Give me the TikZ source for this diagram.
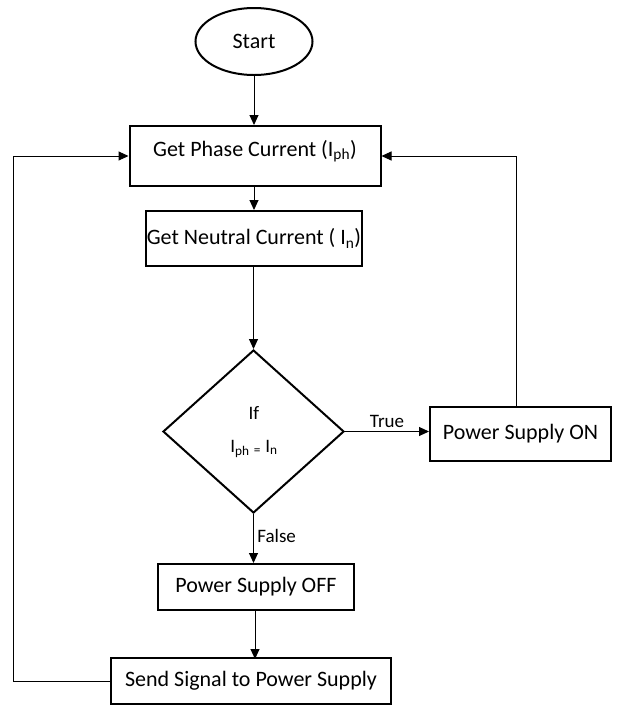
\documentclass[tikz,border=0pt]{standalone}
\usepackage{fontspec}
\setmainfont{Carlito}
\usetikzlibrary{shapes.geometric,arrows.meta}
\begin{document}
\begin{tikzpicture}[x=1pt,y=-1pt,
  font=\fontsize{22}{26}\selectfont,
  box/.style={draw,line width=2pt,inner sep=0pt},
  conn/.style={line width=1pt,-{Triangle[length=10pt,width=9pt]}},
  lbl/.style={font=\fontsize{19}{22}\selectfont}]
\useasboundingbox (0,0) rectangle (617,705);
\node[box,ellipse,minimum width=117,minimum height=67] (start) at (254,41.5) {Start};
\node[box,minimum width=251,minimum height=60] (b1) at (255,156) {\raisebox{5pt}[\height][\depth]{Get Phase Current (I\textsubscript{ph})}};
\node[box,minimum width=216,minimum height=55] (b2) at (254,238.5) {Get Neutral Current ( I\textsubscript{n})};
\node[box,diamond,minimum width=181,minimum height=163] (d) at (253.5,431.5) {};
\node[lbl] (dif) at (254,413) {If};
\node[lbl] (deq) at (254,449) {I\textsubscript{ph} \textsubscript{=} I\textsubscript{n}};
\node[box,minimum width=181,minimum height=54] (on) at (520.5,434) {Power Supply ON};
\node[box,minimum width=196,minimum height=46] (off) at (256,587) {Power Supply OFF};
\node[box,minimum width=280,minimum height=46] (send) at (251,681) {Send Signal to Power Supply};
\coordinate (lc) at (13,681);
\coordinate (rc) at (516,407);
\draw[conn] (start.south) -- (b1.north -| start.south);
\draw[conn] (b1.south -| b2.north) -- (b2.north);
\draw[conn] (b2.south -| d.north) -- (d.north);
\draw[conn] (d.east) -- (d.east -| on.west) node[lbl,midway,above] (ltrue) {True};
\draw[conn] (d.south) -- (off.north -| d.south) node[lbl,midway,right,yshift=3pt] (lfalse) {False};
\draw[conn] (off.south -| send.north) ++(4,0) -- ++(0,48);
\draw[conn] (rc) |- (b1.east);
\draw[conn] (send.west) -- (lc) |- (b1.west);
\end{tikzpicture}
\end{document}
